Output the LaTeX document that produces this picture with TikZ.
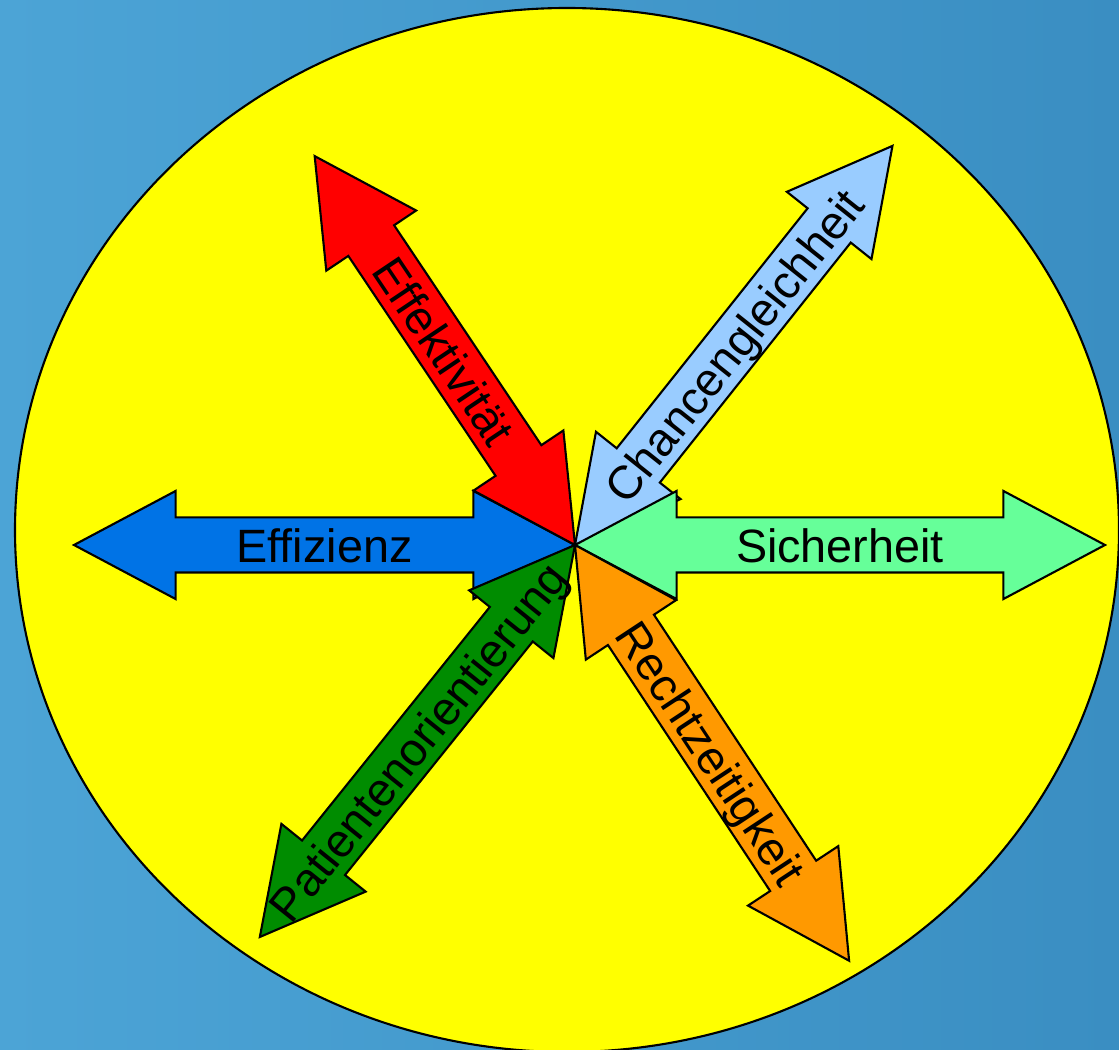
\documentclass[tikz,border=0pt]{standalone}
\usepackage{fontspec}
\setmainfont{Liberation Sans}
\usepackage{tikz}
\usetikzlibrary{shapes.arrows,calc}
\definecolor{bgleft}{HTML}{4CA4D6}
\definecolor{bgright}{HTML}{3A8EC2}
\definecolor{kreiscol}{RGB}{255,255,0}
\definecolor{effzcol}{HTML}{0073E6}
\definecolor{effkcol}{HTML}{FF0000}
\definecolor{chancol}{HTML}{99CCFF}
\definecolor{sichcol}{HTML}{66FF99}
\definecolor{rechcol}{HTML}{FF9900}
\definecolor{paticol}{HTML}{008C00}

\begin{document}
\begin{tikzpicture}[
  pfeil/.style={double arrow,draw=black,line width=0.6pt,inner sep=0pt,
                text height=0.44cm,text depth=0.09cm,
                double arrow head extend=0.265cm,double arrow tip angle=56,
                font=\fontsize{13.3}{16}\selectfont},
]
\useasboundingbox (0,0) rectangle (11.19,10.50);
\shade[left color=bgleft,right color=bgright] (0,0) rectangle (11.19,10.50);
\draw[fill=kreiscol,line width=0.6pt] (5.67,5.20) ellipse [x radius=5.52,y radius=5.22];
\coordinate (mitte) at (5.75,5.05);
\foreach \n/\w/\h/\r/\c/\t in {effz/180/2.505/0/effzcol/Effizienz,
    effk/123.8/2.34/-56.2/effkcol/Effektivität,
    chan/51.5/2.55/51.5/chancol/Chancengleichheit,
    sich/0/2.65/0/sichcol/Sicherheit,
    rech/-56.6/2.49/-56.6/rechcol/Rechtzeitigkeit,
    pati/231.2/2.515/51.2/paticol/Patientenorientierung}
  \node[pfeil,fill=\c,minimum height={2*\h*1cm},rotate=\r] (\n) at ($(mitte)+(\w:\h)$) {\makebox[0pt]{\t}};
\end{tikzpicture}
\end{document}
